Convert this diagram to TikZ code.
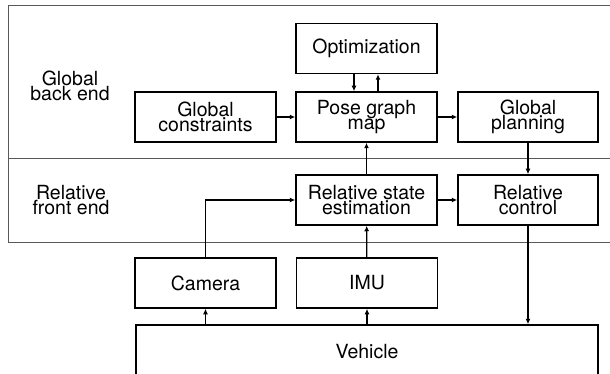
\documentclass[tikz,border=0pt]{standalone}
\usepackage{fontspec}
\setmainfont{TeX Gyre Heros}
\usetikzlibrary{arrows.meta}
\begin{document}
\begin{tikzpicture}[x=1pt, y=-1pt,
  blk/.style={draw, line width=1.5pt, rectangle, minimum width=141pt, minimum height=50pt,
    inner sep=0pt, align=center, font=\fontsize{19.5}{14.8}\selectfont},
  lbl/.style={align=center, inner sep=0pt, font=\fontsize{19.5}{14.8}\selectfont},
  conn/.style={line width=1.2pt, -{Latex[length=5.5pt,width=5pt]}},
  frame/.style={draw=black!65, line width=1pt}]
\clip (0,0) rectangle (610,374);

% layer frames
\draw[frame] (8,6) rectangle (625,242);
\draw[frame] (8,159) -- (625,159);
\node[lbl] (lglob) at (70,86) {Global\\back end};
\node[lbl] (lrel) at (71,200) {Relative\\front end};

% blocks
\node[blk] (opt) at (366.5,48.5) {Optimization};
\node[blk] (gc)  at (205.5,117) {Global\\constraints};
\node[blk] (pgm) at (366.5,117) {Pose graph\\map};
\node[blk, minimum width=140pt] (gp) at (528,117) {Global\\planning};
\node[blk] (rse) at (366.5,200) {Relative state\\estimation};
\node[blk, minimum width=140pt] (rc) at (528,200) {Relative\\control};
\node[blk] (cam) at (205.5,283) {Camera};
\node[blk] (imu) at (367,283) {IMU};
\node[blk, minimum width=462pt, minimum height=53pt] (veh) at (367,351.5) {Vehicle};

% connectors
\draw[conn] (gc) -- (pgm);
\draw[conn] ([xshift=-12.5pt]opt.south) -- ([xshift=-12.5pt]pgm.north);
\draw[conn] ([xshift=11.5pt]pgm.north) -- ([xshift=11.5pt]opt.south);
\draw[conn] (pgm) -- (gp);
\draw[conn] (gp) -- (rc);
\draw[conn] (rse) -- (pgm);
\draw[conn] (rse) -- (rc);
\draw[conn] (cam.north) |- (rse.west);
\draw[conn] (imu) -- (rse);
\draw[conn] (veh.north -| cam.south) -- (cam.south);
\draw[conn] (veh.north -| imu.south) -- (imu.south);
\draw[conn] (rc.south) -- (rc.south |- veh.north);
\end{tikzpicture}
\end{document}
